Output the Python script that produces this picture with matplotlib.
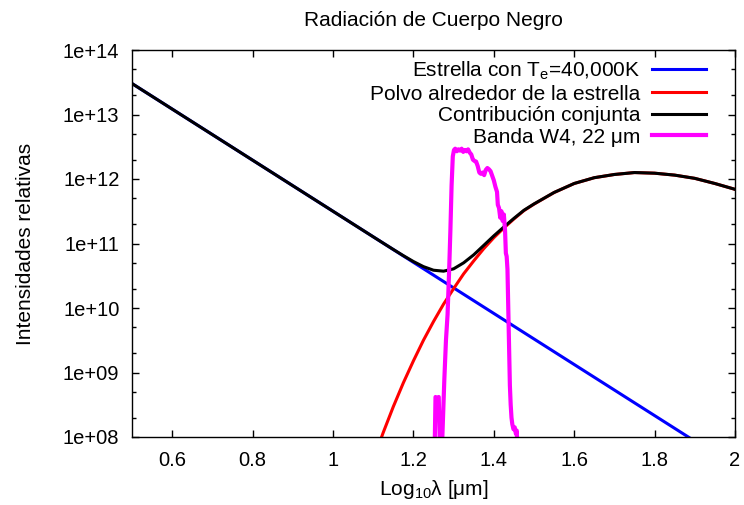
import matplotlib
matplotlib.use("Agg")
import matplotlib.pyplot as plt
from matplotlib.ticker import FixedLocator, NullFormatter, FuncFormatter
import numpy as np

plt.rcParams['font.family'] = ['Liberation Sans', 'DejaVu Sans']

# log10(lambda / um) grid for the two blackbody curves
log_lam = [0.5, 0.6, 0.7, 0.8, 0.9, 1.0, 1.05, 1.1, 1.125, 1.15, 1.175, 1.2, 1.225,
           1.25, 1.275, 1.3, 1.325, 1.35, 1.375, 1.4, 1.425, 1.45, 1.475, 1.5,
           1.55, 1.6, 1.65, 1.7, 1.75, 1.8, 1.85, 1.9, 1.95, 2.0]

# log10 of relative intensity, star (T=40,000 K)
star_log = [13.48, 13.084, 12.688, 12.292, 11.896, 11.50, 11.302, 11.104, 11.005,
            10.906, 10.807, 10.708, 10.609, 10.51, 10.411, 10.312, 10.213, 10.114,
            10.015, 9.916, 9.817, 9.718, 9.619, 9.52, 9.322, 9.124, 8.926, 8.728,
            8.53, 8.332, 8.134, 7.936, 7.738, 7.54]

# log10 of relative intensity, dust around the star
dust_log = [-18.95, -11.32, -5.37, -0.74, 2.83, 5.57, 6.68, 7.64, 8.07, 8.47, 8.84,
            9.18, 9.50, 9.79, 10.06, 10.30, 10.53, 10.73, 10.92, 11.09, 11.24, 11.38,
            11.51, 11.61, 11.79, 11.93, 12.02, 12.07, 12.10, 12.09, 12.06, 12.01,
            11.93, 11.84]

# WISE W4 band response (scaled)
w4_x = [1.252, 1.255, 1.259, 1.263, 1.266, 1.272, 1.277, 1.281, 1.285, 1.289, 1.292,
        1.295, 1.298, 1.301, 1.304, 1.308, 1.312, 1.316, 1.320, 1.324, 1.328, 1.332,
        1.336, 1.340, 1.344, 1.348, 1.352, 1.356, 1.360, 1.364, 1.368, 1.372, 1.376,
        1.380, 1.384, 1.388, 1.392, 1.396, 1.400, 1.404, 1.408, 1.410, 1.413, 1.416,
        1.419, 1.422, 1.425, 1.428, 1.430, 1.432, 1.434, 1.436, 1.438, 1.440, 1.442,
        1.444, 1.446, 1.449, 1.452, 1.455, 1.457, 1.459]
w4_log = [7.5, 8.62, 8.60, 8.62, 7.8, 8.0, 8.9, 9.5, 9.9, 10.6, 11.2,
          11.9, 12.35, 12.45, 12.47, 12.43, 12.46, 12.44, 12.47, 12.42, 12.45, 12.43,
          12.46, 12.41, 12.38, 12.30, 12.28, 12.27, 12.20, 12.10, 12.08, 12.10, 12.06,
          12.14, 12.17, 12.15, 12.12, 12.05, 11.98, 11.88, 11.80, 11.60, 11.55, 11.40,
          11.50, 11.35, 11.45, 11.20, 10.85, 10.80, 10.60, 10.0, 9.4, 8.8, 8.5,
          8.3, 8.2, 8.12, 8.15, 8.05, 8.1, 7.8]

labels = ['Estrella con T$_\\mathregular{e}$=40,000K',
          'Polvo alrededor de la estrella',
          'Contribución conjunta',
          'Banda W4, 22 μm']

x_ticks = [0.6, 0.8, 1.0, 1.2, 1.4, 1.6, 1.8, 2.0]
y_decades = [8, 9, 10, 11, 12, 13, 14]

x = np.array(log_lam)
star = 10 ** np.array(star_log)
dust = 10 ** np.array(dust_log)
total = star + dust

fig = plt.figure(figsize=(7.44, 5.05), dpi=100)
ax = fig.add_axes([132 / 744, 68 / 505, 603 / 744, 387 / 505])

ax.plot(x, star, color='#0000ff', lw=2.2, label=labels[0])
ax.plot(x, dust, color='#ff0000', lw=2.2, label=labels[1])
ax.plot(x, total, color='black', lw=2.2, label=labels[2])
ax.plot(w4_x, 10 ** np.array(w4_log), color='#ff00ff', lw=3.0, label=labels[3])

ax.set_yscale('log')
ax.set_xlim(0.5, 2.0)
ax.set_ylim(1e8, 1e14)

ax.xaxis.set_major_locator(FixedLocator(x_ticks))
ax.xaxis.set_major_formatter(FuncFormatter(lambda v, p: '%g' % v))
ax.yaxis.set_major_locator(FixedLocator([10.0 ** d for d in y_decades]))
ax.yaxis.set_minor_locator(FixedLocator([m * 10.0 ** d for d in y_decades[:-1] for m in (2, 5)]))
ax.yaxis.set_minor_formatter(NullFormatter())
ax.yaxis.set_major_formatter(FuncFormatter(lambda v, p: '%.0e' % v))

ax.tick_params(which='both', direction='in', top=True, right=True, labelsize=14.5, width=1)
ax.tick_params(which='major', length=5)
ax.tick_params(which='minor', length=3)
ax.tick_params(axis='y', pad=9)
ax.tick_params(axis='x', pad=10)
for s in ax.spines.values():
    s.set_linewidth(1)

ax.set_title('Radiación de Cuerpo Negro', fontsize=15, pad=17)
ax.set_xlabel('Log$_\\mathregular{10}$λ [μm]', fontsize=15, labelpad=6)
ax.set_ylabel('Intensidades relativas', fontsize=15, labelpad=20)

ax.legend(loc='upper right', bbox_to_anchor=(0.952, 0.975), frameon=False,
          markerfirst=False, fontsize=15, handlelength=2.6, handletextpad=0.55,
          labelspacing=0.12, borderpad=0, borderaxespad=0)

fig.savefig('out.png', dpi=100)
